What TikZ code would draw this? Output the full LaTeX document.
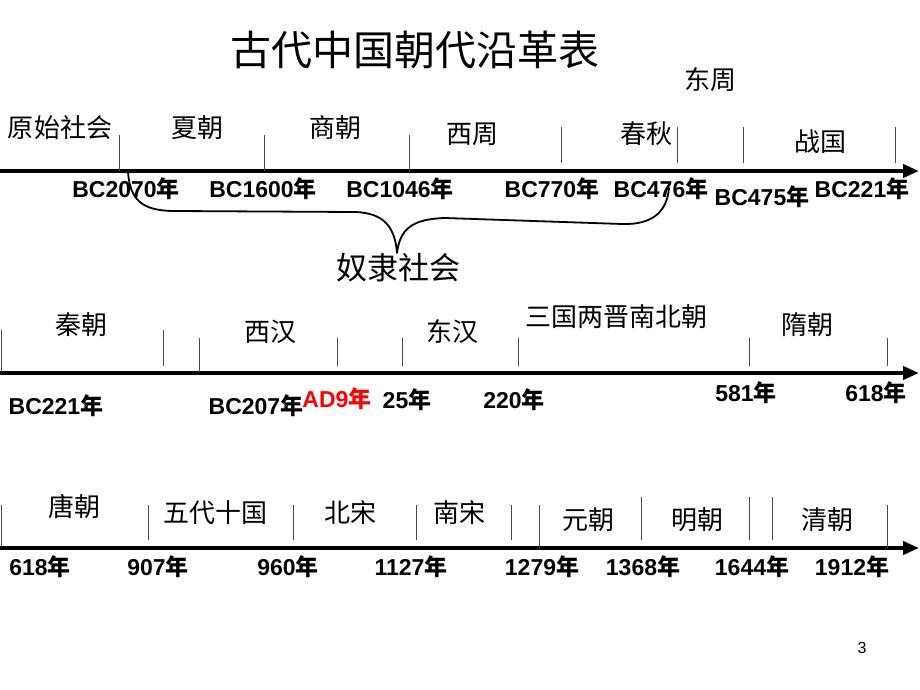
\documentclass[tikz,border=0pt]{standalone}
\usepackage{fontspec}
\setmainfont{Liberation Sans}
\newfontfamily\cjk{Noto Sans CJK SC}
\usetikzlibrary{arrows.meta}
\newcommand\nian{{\cjk 年}}
\begin{document}
\begin{tikzpicture}[x=1pt,y=-1pt,
  lbl/.style={font=\cjk\fontsize{26}{26}\selectfont, inner sep=0pt},
  big/.style={font=\cjk\fontsize{31}{31}\selectfont, inner sep=0pt},
  ttl/.style={font=\cjk\fontsize{41}{41}\selectfont, inner sep=0pt},
  dt/.style={font=\bfseries\fontsize{23}{23}\selectfont, inner sep=0pt},
  axisline/.style={line width=4pt, -{Triangle[length=16pt,width=13pt]}},
  tk/.style={line width=0.9pt, black!70},
  bracepath/.style={line width=1.8pt, line cap=round, line join=round}
]
\useasboundingbox (0,0) rectangle (920,690);
\fill[white] (0,0) rectangle (920,690);

% title
\node[ttl] (title) at (415,50) {古代中国朝代沿革表};

% ---------- row 1 ----------
\coordinate (a1s) at (0,171);
\coordinate (a1e) at (919,171);
\draw[axisline] (a1s) -- (a1e);
\foreach \x in {119,264,409} \draw[tk] (\x,135) -- (\x,171);
\foreach \x in {561,677,743,895} \draw[tk] (\x,127) -- (\x,163);

\node[lbl] (yuanshi) at (60,128) {原始社会};
\node[lbl] (xia) at (197,128) {夏朝};
\node[lbl] (shang) at (335,128) {商朝};
\node[lbl] (xizhou) at (472,134) {西周};
\node[lbl] (chunqiu) at (646,134) {春秋};
\node[lbl] (dongzhou) at (710,80) {东周};
\node[lbl] (zhanguo) at (820,142) {战国};

\node[dt] (d2070) at (126,189) {BC2070\nian};
\node[dt] (d1600) at (263,189) {BC1600\nian};
\node[dt] (d1046) at (400,189) {BC1046\nian};
\node[dt] (d770) at (552,189) {BC770\nian};
\node[dt] (d476) at (661,189) {BC476\nian};
\node[dt] (d475) at (762,197) {BC475\nian};
\node[dt] (d221a) at (862,189) {BC221\nian};

% brace
\draw[bracepath] (128,172) .. controls (130,200) and (142,211) .. (175,211)
  -- (355,212) .. controls (385,213) and (395,228) .. (397,253)
  .. controls (400,229) and (412,219) .. (445,218)
  -- (622,224) .. controls (652,225) and (667,212) .. (669,188);
\node[big] (nuli) at (398,268) {奴隶社会};

% ---------- row 2 ----------
\coordinate (a2s) at (0,373);
\coordinate (a2e) at (919,373);
\draw[axisline] (a2s) -- (a2e);
\draw[tk] (1,330) -- (1,372);
\draw[tk] (163,330) -- (163,366);
\draw[tk] (199,338) -- (199,372);
\foreach \x in {337,402,518,749,887} \draw[tk] (\x,338) -- (\x,366);

\node[lbl] (qin) at (81,325) {秦朝};
\node[lbl] (xihan) at (270,332) {西汉};
\node[lbl] (donghan) at (452,332) {东汉};
\node[lbl] (sanguo) at (616,317) {三国两晋南北朝};
\node[lbl] (sui) at (807,325) {隋朝};

\node[dt] (d221b) at (56,406) {BC221\nian};
\node[dt] (d207) at (256,406) {BC207\nian};
\node[dt, text=red] (d9) at (337,399) {AD9\nian};
\node[dt] (d25) at (407,400) {25\nian};
\node[dt] (d220) at (514,400) {220\nian};
\node[dt] (d581) at (746,393) {581\nian};
\node[dt] (d618a) at (876,393) {618\nian};

% ---------- row 3 ----------
\coordinate (a3s) at (0,548);
\coordinate (a3e) at (919,548);
\draw[axisline] (a3s) -- (a3e);
\draw[tk] (1,505) -- (1,546);
\foreach \x in {148,293,416,511} \draw[tk] (\x,505) -- (\x,540);
\draw[tk] (539,505) -- (539,548);
\foreach \x in {641,749,772} \draw[tk] (\x,497) -- (\x,540);
\draw[tk] (887,505) -- (887,548);

\node[lbl] (tang) at (74,506) {唐朝};
\node[lbl] (wudai) at (215,513) {五代十国};
\node[lbl] (beisong) at (350,513) {北宋};
\node[lbl] (nansong) at (459,513) {南宋};
\node[lbl] (yuan) at (588,520) {元朝};
\node[lbl] (ming) at (697,520) {明朝};
\node[lbl] (qing) at (827,520) {清朝};

\node[dt] (d618b) at (40,567) {618\nian};
\node[dt] (d907) at (158,567) {907\nian};
\node[dt] (d960) at (288,567) {960\nian};
\node[dt] (d1127) at (411,567) {1127\nian};
\node[dt] (d1279) at (542,567) {1279\nian};
\node[dt] (d1368) at (643,567) {1368\nian};
\node[dt] (d1644) at (752,567) {1644\nian};
\node[dt] (d1912) at (852,567) {1912\nian};

\node[font=\fontsize{16}{16}\selectfont, inner sep=0pt] (pg) at (862,648) {3};
\end{tikzpicture}
\end{document}
